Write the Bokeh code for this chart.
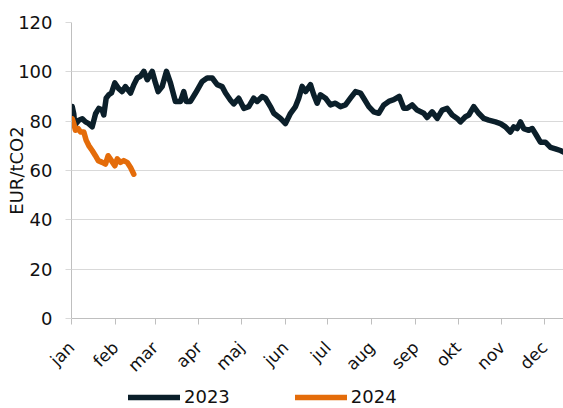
import math
from bokeh.plotting import figure
from bokeh.layouts import column
from bokeh.models import FixedTicker, Legend, LegendItem, Range1d
from bokeh.embed import file_html
from bokeh.resources import INLINE

# day-of-year (approx.) and EUA price, EUR/tCO2
days_2023 = [0.5, 1.6, 2.3, 5.2, 7.6, 9.9, 12.2, 14.6, 17.0, 19.3, 21.7, 22.8, 24.5, 26.3,
             28.2, 30.6, 33.0, 35.8, 38.1, 41.7, 44.0, 46.4, 48.7, 51.1, 53.5, 57.0, 59.3,
             61.2, 64.0, 67.1, 69.9, 73.4, 77.0, 79.3, 81.0, 84.0, 87.6, 92.3, 95.8, 99.4,
             102.9, 106.4, 108.8, 112.3, 114.6, 118.1, 121.7, 125.2, 128.7, 131.1, 134.7,
             137.0, 140.5, 142.9, 147.6, 151.1, 154.7, 158.2, 160.5, 162.9, 165.3, 168.8,
             171.1, 173.5, 175.8, 179.4, 182.9, 186.4, 190.0, 193.5, 197.0, 200.6, 204.1,
             206.4, 210.0, 213.5, 217.0, 220.6, 224.1, 227.6, 231.5, 234.7, 237.1, 240.6,
             244.1, 248.8, 251.2, 254.7, 258.3, 261.8, 265.3, 268.9, 272.4, 274.7, 278.2,
             280.6, 284.1, 287.6, 291.2, 294.7, 299.4, 303.0, 306.5, 310.0, 312.4, 314.8,
             317.1, 319.4, 323.0, 325.4, 327.7, 331.2, 334.7, 338.3, 341.8, 345.3, 347.5]
eua_2023 = [85.9, 83.0, 78.4, 80.4, 81.0, 79.7, 79.0, 77.7, 83.0, 85.2, 84.5, 82.5, 89.3, 90.7,
            91.4, 95.5, 93.4, 92.0, 94.0, 91.4, 94.8, 97.5, 98.2, 100.2, 96.8, 100.2, 95.5,
            92.0, 94.0, 100.2, 95.5, 88.0, 88.0, 92.0, 88.0, 88.0, 91.4, 96.1, 97.5, 97.5,
            94.8, 94.0, 91.4, 88.5, 87.0, 89.3, 85.2, 85.9, 89.3, 88.0, 90.0,
            89.3, 85.9, 83.2, 81.1, 79.0, 83.2, 85.9, 89.3, 94.1, 92.0, 94.8,
            90.7, 87.3, 90.7, 89.3, 86.6, 87.3, 85.9, 86.6, 89.3, 92.0, 91.4,
            89.3, 85.9, 83.8, 83.2, 86.6, 88.0, 88.7, 90.0, 85.2, 85.2, 86.6,
            84.5, 83.2, 81.5, 83.8, 81.1, 84.5, 85.2, 82.5, 81.1, 79.7, 81.8,
            82.5, 85.9, 83.2, 81.1, 80.4, 79.7, 79.0, 77.7, 75.6, 77.7, 77.0,
            79.7, 77.0, 76.3, 77.0, 74.9, 71.5, 71.5, 69.4, 68.8, 68.1, 67.5]

days_2024 = [0.5, 1.6, 2.8, 4.7, 6.4, 8.7, 10.4, 12.2, 14.6, 16.9, 18.9, 21.7, 24.0, 25.9,
             28.2, 30.6, 32.3, 34.6, 36.9, 39.3, 41.7, 44.0]
eua_2024 = [81.0, 79.0, 76.3, 77.0, 75.6, 75.6, 72.2, 70.1, 68.1, 66.0, 64.0, 63.3, 62.6, 66.0,
            64.0, 61.9, 64.7, 63.3, 64.0, 63.3, 61.2, 58.5]

month_starts = [0, 31, 59, 90, 120, 151, 181, 212, 243, 273, 304, 334]
month_labels = ["jan", "feb", "mar", "apr", "maj", "jun", "jul", "aug", "sep", "okt", "nov", "dec"]
y_ticks = [0, 20, 40, 60, 80, 100, 120]
series_names = ["2023", "2024"]

FONT = "DejaVu Sans"
C23 = "#0B1F2A"
C24 = "#E46C0A"
LW = 5.5

p = figure(width=563, height=386, output_backend="svg", toolbar_location=None,
           x_range=Range1d(0, 347.5), y_range=Range1d(0, 120),
           min_border_left=71, min_border_top=22, min_border_right=0, min_border_bottom=68)
p.outline_line_color = None
p.background_fill_color = "white"

p.line(days_2023, eua_2023, line_width=LW, color=C23, line_cap="round", line_join="round")
p.line(days_2024, eua_2024, line_width=LW, color=C24, line_cap="round", line_join="round")

p.xgrid.grid_line_color = None
p.ygrid.grid_line_color = "#d9d9d9"
p.ygrid.ticker = FixedTicker(ticks=y_ticks)

ya = p.yaxis[0]
ya.ticker = FixedTicker(ticks=y_ticks)
ya.axis_line_color = "#bfbfbf"
ya.major_tick_line_color = "#d9d9d9"
ya.major_tick_out = 6
ya.major_tick_in = 0
ya.minor_tick_line_color = None
ya.major_label_text_font = FONT
ya.major_label_text_font_size = "18px"
ya.major_label_text_color = "#111111"
ya.major_label_standoff = 13
ya.axis_label = "EUR/tCO2"
ya.axis_label_text_font = FONT
ya.axis_label_text_font_size = "18px"
ya.axis_label_text_font_style = "normal"
ya.axis_label_text_color = "#111111"
ya.axis_label_standoff = -12

xa = p.xaxis[0]
xa.ticker = FixedTicker(ticks=month_starts)
xa.major_label_overrides = {m: l for m, l in zip(month_starts, month_labels)}
xa.major_label_orientation = math.pi / 4
xa.axis_line_color = "#bfbfbf"
xa.major_tick_line_color = "#bfbfbf"
xa.major_tick_out = 6
xa.major_tick_in = 0
xa.minor_tick_line_color = None
xa.major_label_text_font = FONT
xa.major_label_text_font_size = "17px"
xa.major_label_text_color = "#111111"
xa.major_label_standoff = 20

# legend strip below the chart (its lines lie outside its own ranges; only the legend shows)
pl = figure(width=563, height=22, output_backend="svg", toolbar_location=None,
            x_axis_type=None, y_axis_type=None,
            x_range=Range1d(0, 347.5), y_range=Range1d(-20, -10),
            min_border=0, min_border_left=0, min_border_right=0, min_border_top=0, min_border_bottom=0)
pl.outline_line_color = None
pl.grid.visible = False
l1 = pl.line(days_2023, eua_2023, line_width=LW, color=C23, line_cap="round")
l2 = pl.line(days_2024, eua_2024, line_width=LW, color=C24, line_cap="round")
legend = Legend(items=[LegendItem(label=series_names[0], renderers=[l1]),
                       LegendItem(label=series_names[1], renderers=[l2])],
                orientation="horizontal", location=(57, 1),
                glyph_width=52, glyph_height=14, label_height=14, label_standoff=4,
                spacing=65, padding=0, margin=0,
                border_line_alpha=0, background_fill_alpha=0,
                label_text_font=FONT, label_text_font_size="18px",
                label_text_color="#111111")
pl.add_layout(legend)

layout = column(p, pl, spacing=0)
open("out.html", "w").write(file_html(layout, INLINE))
